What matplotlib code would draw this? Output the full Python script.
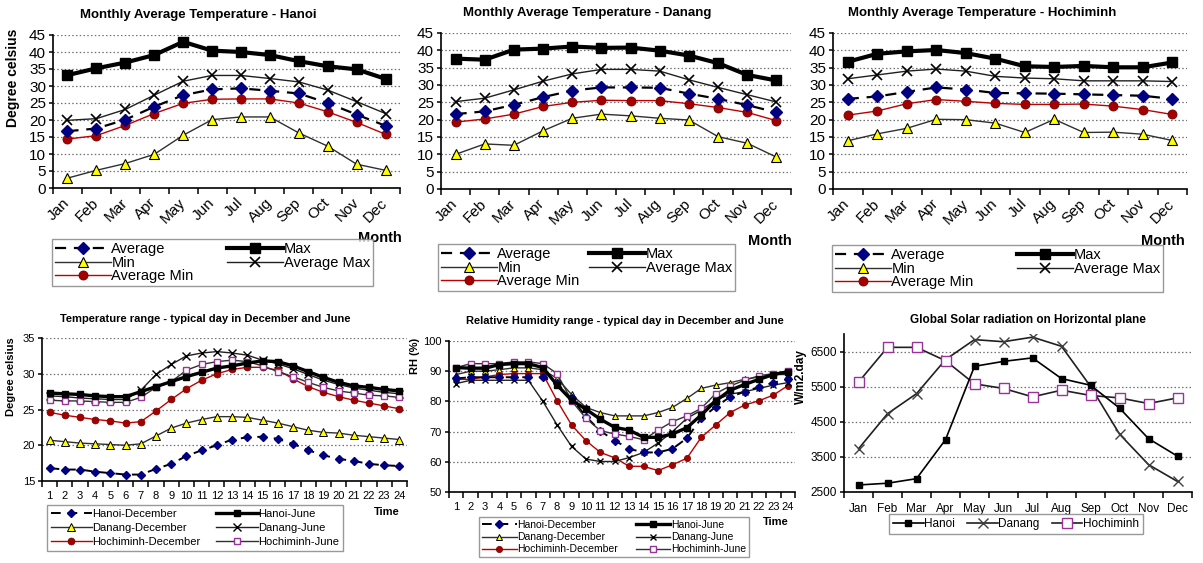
import matplotlib
matplotlib.use("Agg")
import matplotlib.pyplot as plt
from matplotlib.ticker import FixedLocator, NullFormatter

plt.rcParams['font.family'] = ['Liberation Sans', 'DejaVu Sans']

# ---------------- data ----------------
months = ['Jan', 'Feb', 'Mar', 'Apr', 'May', 'Jun', 'Jul', 'Aug', 'Sep', 'Oct', 'Nov', 'Dec']

hanoi_avg = [16.7, 17.5, 20.1, 23.9, 27.3, 29.0, 29.3, 28.6, 27.8, 25.0, 21.6, 18.3]
hanoi_max = [33.2, 35.2, 36.9, 39.1, 43.0, 40.4, 40.0, 39.1, 37.3, 35.8, 34.9, 32.1]
hanoi_min = [2.9, 5.2, 7.2, 9.9, 15.5, 20.1, 20.9, 20.9, 16.2, 12.3, 7.0, 5.2]
hanoi_avgmax = [19.9, 20.4, 23.1, 27.3, 31.4, 33.1, 33.1, 32.2, 31.2, 28.8, 25.4, 21.9]
hanoi_avgmin = [14.4, 15.4, 18.4, 21.9, 24.9, 26.1, 26.2, 26.2, 25.0, 22.4, 19.3, 15.8]

danang_avg = [21.6, 22.4, 24.3, 26.5, 28.4, 29.3, 29.3, 29.2, 27.5, 26.0, 24.2, 22.1]
danang_max = [37.6, 37.3, 40.2, 40.5, 41.1, 40.7, 40.8, 39.9, 38.5, 36.3, 32.9, 31.3]
danang_min = [10.0, 13.0, 12.6, 16.8, 20.4, 21.6, 21.1, 20.4, 19.9, 15.1, 13.2, 9.2]
danang_avgmax = [25.2, 26.2, 28.6, 31.1, 33.2, 34.5, 34.5, 34.0, 31.5, 29.3, 27.2, 25.1]
danang_avgmin = [19.3, 20.2, 21.6, 23.8, 25.0, 25.6, 25.5, 25.5, 24.6, 23.5, 22.1, 19.7]

hcm_avg = [26.0, 26.7, 28.0, 29.3, 28.7, 27.7, 27.6, 27.5, 27.3, 27.1, 26.9, 26.0]
hcm_max = [36.7, 39.0, 39.7, 40.1, 39.2, 37.6, 35.4, 35.2, 35.5, 35.1, 35.1, 36.5]
hcm_min = [13.9, 15.9, 17.5, 20.1, 20.0, 19.0, 16.3, 20.1, 16.3, 16.4, 15.8, 14.0]
hcm_avgmax = [31.8, 32.9, 34.0, 34.6, 34.0, 32.5, 32.0, 31.8, 31.2, 31.2, 31.2, 31.0]
hcm_avgmin = [21.3, 22.5, 24.6, 25.8, 25.3, 24.7, 24.4, 24.4, 24.5, 23.9, 22.9, 21.5]

hours = [str(h) for h in range(1, 25)]

t_hanoi_dec = [16.8, 16.6, 16.6, 16.3, 16.1, 15.9, 15.9, 16.7, 17.4, 18.5, 19.3, 20.0,
               20.8, 21.1, 21.2, 20.9, 20.2, 19.3, 18.6, 18.1, 17.8, 17.4, 17.2, 17.1]
t_hanoi_jun = [27.3, 27.2, 27.1, 26.9, 26.8, 26.8, 27.5, 28.2, 28.9, 29.6, 30.2, 30.8,
               31.1, 31.5, 31.8, 31.7, 31.1, 30.3, 29.5, 28.8, 28.3, 28.1, 27.8, 27.6]
t_danang_dec = [20.7, 20.5, 20.3, 20.2, 20.1, 20.0, 20.2, 21.3, 22.4, 23.1, 23.6, 24.0,
                24.0, 23.9, 23.5, 23.1, 22.6, 22.1, 21.8, 21.7, 21.4, 21.2, 21.0, 20.8]
t_danang_jun = [26.9, 26.8, 26.6, 26.5, 26.4, 26.4, 27.7, 29.9, 31.3, 32.5, 32.9, 33.1,
                32.9, 32.6, 31.9, 31.4, 30.7, 29.9, 29.1, 28.5, 28.0, 27.7, 27.4, 27.2]
t_hcm_dec = [24.6, 24.2, 23.9, 23.6, 23.4, 23.1, 23.3, 24.8, 26.4, 27.9, 29.1, 30.0,
             30.6, 30.9, 30.9, 30.5, 29.3, 28.2, 27.4, 26.8, 26.3, 25.9, 25.5, 25.1]
t_hcm_jun = [26.3, 26.2, 26.2, 26.1, 26.0, 26.0, 26.7, 28.1, 28.9, 30.5, 31.3, 31.7,
             31.9, 31.7, 31.1, 30.3, 29.6, 28.8, 28.1, 27.6, 27.3, 27.0, 26.9, 26.7]

rh_hanoi_dec = [87.6, 88, 88, 88, 88, 88, 88, 86, 81, 75, 70.2, 67,
                64.3, 63.1, 63.1, 64.3, 67.8, 74.4, 78.2, 81.5, 83.2, 84.8, 86.2, 87.3]
rh_hanoi_jun = [91.2, 91, 91, 92.2, 92.5, 92.5, 91.2, 85.4, 80.4, 77.4, 74.1, 71.4,
                70.5, 68.1, 68.1, 69.2, 71.3, 75.5, 80.2, 83.7, 85.6, 87.3, 88.9, 89.8]
rh_danang_dec = [88.9, 90, 90, 90.5, 91.1, 91.1, 90.5, 87.6, 82.3, 78, 76.3, 75.2,
                 75.2, 75.2, 76.3, 78, 81, 84.3, 85.4, 86.2, 87.3, 88.1, 88.9, 88.9]
rh_danang_jun = [85.9, 87, 87, 87, 87, 87, 80.1, 72.2, 65.1, 60.9, 60.1, 60.1,
                 61.4, 63.1, 66.2, 70, 74.4, 77.1, 80.4, 82.4, 83.2, 84.3, 85.4, 86.2]
rh_hcm_dec = [87.3, 87.3, 88.1, 88.9, 89.2, 89.2, 89.2, 80.2, 72.2, 67, 63.1, 61.3,
              58.5, 58.5, 57.1, 59, 61.2, 68.1, 72.2, 76.3, 78.8, 80.2, 82.1, 85.2]
rh_hcm_jun = [91.2, 92.5, 92.5, 92.5, 93.1, 93.1, 92.5, 89.2, 80.2, 74.4, 70.3, 69.2,
              68.4, 67.3, 70.5, 73.3, 75.2, 77.7, 82.6, 85.1, 87, 88.5, 89.2, 90.1]

sol_hanoi = [2700, 2750, 2880, 3990, 6080, 6220, 6320, 5730, 5540, 4890, 4020, 3520]
sol_danang = [3730, 4730, 5300, 6270, 6840, 6780, 6910, 6650, 5510, 4150, 3280, 2800]
sol_hcm = [5630, 6620, 6620, 6240, 5580, 5450, 5210, 5400, 5250, 5180, 5020, 5180]

# ---------------- figure ----------------
W, H = 1203, 563
fig = plt.figure(figsize=(W / 100, H / 100), dpi=100)
fig.patch.set_facecolor('white')


def px_axes(x0, y0, x1, y1):
    return fig.add_axes([x0 / W, 1 - y1 / H, (x1 - x0) / W, (y1 - y0) / H])


def excel_axes(ax, cats, ylim, yticks, tick_fs, rot=False):
    n = len(cats)
    x = list(range(n))
    ax.set_xlim(-0.5, n - 0.5)
    ax.set_ylim(*ylim)
    for s in ('top', 'right'):
        ax.spines[s].set_visible(False)
    for s in ('left', 'bottom'):
        ax.spines[s].set_linewidth(1.2)
        ax.spines[s].set_color('black')
    ax.set_yticks(yticks)
    ax.yaxis.grid(True, linestyle=(0, (1.2, 1.8)), color='#707070', linewidth=0.9)
    ax.set_axisbelow(True)
    ax.xaxis.set_major_locator(FixedLocator(x))
    ax.xaxis.set_minor_locator(FixedLocator([i - 0.5 for i in range(n + 1)]))
    ax.xaxis.set_minor_formatter(NullFormatter())
    ax.tick_params(axis='x', which='major', length=0, labelsize=tick_fs, pad=7 if not rot else 9)
    ax.tick_params(axis='x', which='minor', length=4, width=1.1, direction='out')
    ax.tick_params(axis='y', length=3, width=1.1, labelsize=tick_fs, pad=2)
    if rot:
        ax.set_xticklabels(cats, rotation=45, ha='right', va='center', rotation_mode='anchor')
    else:
        ax.set_xticklabels(cats)
    return x


def legend_at(handles_ax, x0, y0, x1, y1, ncol, fs, hl, lsp=0.0, bpad=0.35):
    h, l = handles_ax.get_legend_handles_labels()
    leg = fig.legend(h, l, loc='upper left',
                     bbox_to_anchor=(x0 / W, 1 - y1 / H, (x1 - x0) / W, (y1 - y0) / H),
                     mode='expand', ncol=ncol, fontsize=fs, handlelength=hl,
                     handletextpad=0.05, labelspacing=lsp, borderpad=bpad,
                     columnspacing=0.5, fancybox=False, frameon=True, numpoints=1,
                     borderaxespad=0)
    fr = leg.get_frame()
    fr.set_edgecolor('#808080')
    fr.set_linewidth(1.0)
    return leg


NAVY = '#000080'
RED_LINE = '#C00000'
RED_MK = '#A50000'
YEL = '#FFFF00'
PURP = '#993399'


def monthly(ax, avg, mx, mn, amx, amn):
    x = excel_axes(ax, months, (0, 45), range(0, 50, 5), 11, rot=True)
    ax.plot(x, avg, color='black', lw=1.6, dashes=(5, 3.5), marker='D', ms=6,
            mfc=NAVY, mec=NAVY, label='Average', zorder=4)
    ax.plot(x, mn, color='#303030', lw=1.0, marker='^', ms=7.5, mfc=YEL, mec='black',
            mew=0.8, label='Min', zorder=3)
    ax.plot(x, amn, color=RED_LINE, lw=1.0, marker='o', ms=6.5, mfc=RED_MK, mec='#700000',
            mew=0.6, label='Average Min', zorder=3)
    ax.plot(x, mx, color='black', lw=3.0, marker='s', ms=7, mfc='black', mec='black',
            label='Max', zorder=5)
    ax.plot(x, amx, color='#202020', lw=1.0, marker='x', ms=7, mec='black', mew=1.2,
            label='Average Max', zorder=3)


# ---- top row ----
ax1 = px_axes(53, 35, 400, 188)
monthly(ax1, hanoi_avg, hanoi_max, hanoi_min, hanoi_avgmax, hanoi_avgmin)
ax1.set_ylabel('Degree celsius', fontsize=10, fontweight='bold')
ax1.yaxis.set_label_coords(-0.095, 0.72)
fig.text(198 / W, 1 - 15 / H, 'Monthly Average Temperature - Hanoi', ha='center', va='center',
         fontsize=9.5, fontweight='bold')
fig.text(380 / W, 1 - 238 / H, 'Month', ha='center', va='center', fontsize=10.5, fontweight='bold')
legend_at(ax1, 52, 239, 373, 282, 2, 10.5, 3.8, lsp=-0.04, bpad=0.22)

ax2 = px_axes(441, 33, 791, 189)
monthly(ax2, danang_avg, danang_max, danang_min, danang_avgmax, danang_avgmin)
fig.text(587 / W, 1 - 13 / H, 'Monthly Average Temperature - Danang', ha='center', va='center',
         fontsize=9.5, fontweight='bold')
fig.text(770 / W, 1 - 241 / H, 'Month', ha='center', va='center', fontsize=10.5, fontweight='bold')
legend_at(ax2, 438, 244, 735, 285, 2, 10.5, 3.8, lsp=-0.04, bpad=0.22)

ax3 = px_axes(833, 33, 1187, 189)
monthly(ax3, hcm_avg, hcm_max, hcm_min, hcm_avgmax, hcm_avgmin)
fig.text(982 / W, 1 - 13 / H, 'Monthly Average Temperature - Hochiminh', ha='center', va='center',
         fontsize=9.5, fontweight='bold')
fig.text(1163 / W, 1 - 241 / H, 'Month', ha='center', va='center', fontsize=10.5, fontweight='bold')
legend_at(ax3, 832, 245, 1163, 285, 2, 10.5, 3.8, lsp=-0.04, bpad=0.22)


def daily(ax, ylim, yticks, hd, hj, dd, dj, cd, cj, ms_scale=1.0):
    x = excel_axes(ax, hours, ylim, yticks, 8)
    ax.plot(x, hd, color='black', lw=1.4, dashes=(5, 3.5), marker='D', ms=4.5 * ms_scale,
            mfc=NAVY, mec=NAVY, label='Hanoi-December', zorder=4)
    ax.plot(x, dd, color='#303030', lw=1.0, marker='^', ms=5.5 * ms_scale, mfc=YEL, mec='black',
            mew=0.7, label='Danang-December', zorder=3)
    ax.plot(x, cd, color=RED_LINE, lw=1.0, marker='o', ms=5 * ms_scale, mfc=RED_MK, mec='#700000',
            mew=0.5, label='Hochiminh-December', zorder=3)
    ax.plot(x, hj, color='black', lw=2.4, marker='s', ms=5 * ms_scale, mfc='black', mec='black',
            label='Hanoi-June', zorder=5)
    ax.plot(x, dj, color='#202020', lw=1.0, marker='x', ms=5.5 * ms_scale, mec='black', mew=1.0,
            label='Danang-June', zorder=3)
    ax.plot(x, cj, color='#303030', lw=1.0, marker='s', ms=5 * ms_scale, mfc='white', mec=PURP,
            mew=1.0, label='Hochiminh-June', zorder=4)


# ---- bottom row ----
ax4 = px_axes(42, 338, 407, 481)
daily(ax4, (15, 35), range(15, 40, 5), t_hanoi_dec, t_hanoi_jun, t_danang_dec, t_danang_jun,
      t_hcm_dec, t_hcm_jun)
ax4.set_ylabel('Degree celsius', fontsize=8, fontweight='bold')
ax4.yaxis.set_label_coords(-0.07, 0.73)
fig.text(205 / W, 1 - 319 / H, 'Temperature range - typical day in December and June',
         ha='center', va='center', fontsize=8, fontweight='bold')
fig.text(387 / W, 1 - 512 / H, 'Time', ha='center', va='center', fontsize=8, fontweight='bold')
legend_at(ax4, 47, 505, 343, 553, 2, 8, 3.7, lsp=0.35)

ax5 = px_axes(449, 341, 795, 492)
daily(ax5, (50, 100), range(50, 110, 10), rh_hanoi_dec, rh_hanoi_jun, rh_danang_dec,
      rh_danang_jun, rh_hcm_dec, rh_hcm_jun, ms_scale=0.9)
ax5.set_ylabel('RH (%)', fontsize=8, fontweight='bold')
ax5.yaxis.set_label_coords(-0.085, 0.9)
fig.text(625 / W, 1 - 321 / H, 'Relative Humidity range - typical day in December and June',
         ha='center', va='center', fontsize=8, fontweight='bold')
fig.text(776 / W, 1 - 522 / H, 'Time', ha='center', va='center', fontsize=8, fontweight='bold')
legend_at(ax5, 479, 517, 749, 560, 2, 7.5, 3.3, lsp=0.2, bpad=0.3)

ax6 = px_axes(844, 334, 1192, 492)
x6 = excel_axes(ax6, months, (2500, 7000), [2500, 3500, 4500, 5500, 6500], 8.5)
ax6.tick_params(axis='x', which='major', pad=8)
ax6.plot(x6, sol_hanoi, color='black', lw=1.2, marker='s', ms=4, mfc='black', mec='black',
         label='Hanoi', zorder=4)
ax6.plot(x6, sol_danang, color='#202020', lw=1.2, marker='x', ms=6.5, mec='#404040', mew=1.0,
         label='Danang', zorder=3)
ax6.plot(x6, sol_hcm, color='#202020', lw=1.2, marker='s', ms=7, mfc='white', mec=PURP,
         mew=1.0, label='Hochiminh', zorder=3)
ax6.set_ylabel('W/m2.day', fontsize=8.5, fontweight='bold')
ax6.yaxis.set_label_coords(-0.105, 0.73)
fig.text(1028 / W, 1 - 320 / H, 'Global Solar radiation on Horizontal plane',
         ha='center', va='center', fontsize=8.5, fontweight='bold')
legend_at(ax6, 889, 514, 1143, 535, 3, 8.5, 2.6)

fig.savefig('out.png', dpi=100, facecolor='white')
